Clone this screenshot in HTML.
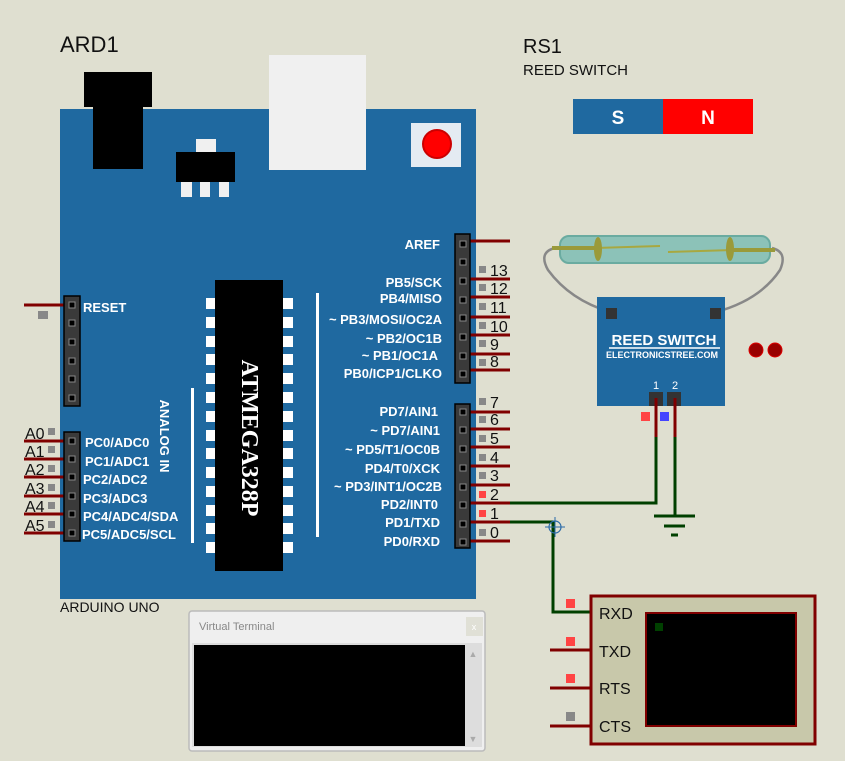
<!DOCTYPE html>
<html><head><meta charset="utf-8"><style>
html,body{margin:0;padding:0;background:#dfdfd0;}
svg{display:block;font-family:"Liberation Sans",sans-serif;}
.w{fill:#fff;font-weight:bold;font-size:13px;}
.n{fill:#111;font-size:16px;}
</style></head><body>
<svg width="845" height="761" viewBox="0 0 845 761" xmlns="http://www.w3.org/2000/svg">
<rect width="845" height="761" fill="#dfdfd0"/>
<text x="60" y="52" font-size="22" fill="#111">ARD1</text>
<text x="523" y="53" font-size="20" fill="#111">RS1</text>
<text x="523" y="75" font-size="15" fill="#111">REED SWITCH</text>
<text x="60" y="612" font-size="14" fill="#111">ARDUINO UNO</text>
<!-- board -->
<rect x="60" y="109" width="416" height="490" fill="#1f69a0"/>
<rect x="84" y="72" width="68" height="35" fill="#000"/>
<rect x="93" y="100" width="50" height="69" fill="#000"/>
<rect x="196" y="139" width="20" height="14" fill="#f0f0f0"/>
<rect x="176" y="152" width="59" height="30" fill="#000"/>
<rect x="181" y="182" width="11" height="15" fill="#f0f0f0"/>
<rect x="200" y="182" width="10" height="15" fill="#f0f0f0"/>
<rect x="219" y="182" width="10" height="15" fill="#f0f0f0"/>
<rect x="269" y="55" width="97" height="115" fill="#f0f0f0"/>
<rect x="411" y="123" width="50" height="44" fill="#e4ebf2"/>
<circle cx="437" cy="144" r="14" fill="#f00" stroke="#c00" stroke-width="2"/>
<!-- chip -->
<rect x="215" y="280" width="68" height="291" fill="#000"/>
<g fill="#fff">
<rect x="206" y="298" width="9" height="11"/><rect x="283" y="298" width="10" height="11"/>
<rect x="206" y="317" width="9" height="11"/><rect x="283" y="317" width="10" height="11"/>
<rect x="206" y="336" width="9" height="11"/><rect x="283" y="336" width="10" height="11"/>
<rect x="206" y="354" width="9" height="11"/><rect x="283" y="354" width="10" height="11"/>
<rect x="206" y="373" width="9" height="11"/><rect x="283" y="373" width="10" height="11"/>
<rect x="206" y="392" width="9" height="11"/><rect x="283" y="392" width="10" height="11"/>
<rect x="206" y="411" width="9" height="11"/><rect x="283" y="411" width="10" height="11"/>
<rect x="206" y="430" width="9" height="11"/><rect x="283" y="430" width="10" height="11"/>
<rect x="206" y="448" width="9" height="11"/><rect x="283" y="448" width="10" height="11"/>
<rect x="206" y="467" width="9" height="11"/><rect x="283" y="467" width="10" height="11"/>
<rect x="206" y="486" width="9" height="11"/><rect x="283" y="486" width="10" height="11"/>
<rect x="206" y="505" width="9" height="11"/><rect x="283" y="505" width="10" height="11"/>
<rect x="206" y="523" width="9" height="11"/><rect x="283" y="523" width="10" height="11"/>
<rect x="206" y="542" width="9" height="11"/><rect x="283" y="542" width="10" height="11"/>
</g>
<text transform="translate(242,438) rotate(90)" text-anchor="middle" font-family="Liberation Serif,serif" font-weight="bold" font-size="24" fill="#fff">ATMEGA328P</text>
<text transform="translate(160,436) rotate(90)" text-anchor="middle" class="w" font-size="12">ANALOG IN</text>
<rect x="191" y="388" width="3" height="155" fill="#fff"/>
<rect x="316" y="293" width="3" height="244" fill="#fff"/>
<!-- left headers -->
<g stroke="#800000" stroke-width="3">
<line x1="24" y1="305" x2="64" y2="305"/>
<line x1="24" y1="441" x2="64" y2="441"/><line x1="24" y1="459" x2="64" y2="459"/>
<line x1="24" y1="477" x2="64" y2="477"/><line x1="24" y1="496" x2="64" y2="496"/>
<line x1="24" y1="514" x2="64" y2="514"/><line x1="24" y1="533" x2="64" y2="533"/>
</g>
<rect x="64" y="296" width="16" height="110" fill="#3a3a3a" stroke="#000" stroke-width="1.5"/>
<rect x="64" y="432" width="16" height="109" fill="#3a3a3a" stroke="#000" stroke-width="1.5"/>
<g fill="#000" stroke="#888" stroke-width="1">
<rect x="69" y="302" width="6" height="6"/><rect x="69" y="320" width="6" height="6"/><rect x="69" y="339" width="6" height="6"/><rect x="69" y="358" width="6" height="6"/><rect x="69" y="376" width="6" height="6"/><rect x="69" y="395" width="6" height="6"/>
<rect x="69" y="438" width="6" height="6"/><rect x="69" y="456" width="6" height="6"/><rect x="69" y="474" width="6" height="6"/><rect x="69" y="493" width="6" height="6"/><rect x="69" y="511" width="6" height="6"/><rect x="69" y="530" width="6" height="6"/>
</g>
<rect x="38" y="311" width="10" height="8" fill="#888"/>
<g fill="#888"><rect x="48" y="428" width="7" height="7"/><rect x="48" y="446" width="7" height="7"/><rect x="48" y="465" width="7" height="7"/><rect x="48" y="484" width="7" height="7"/><rect x="48" y="502" width="7" height="7"/><rect x="48" y="521" width="7" height="7"/></g>
<g class="n"><text x="25" y="439">A0</text><text x="25" y="457">A1</text><text x="25" y="475">A2</text><text x="25" y="494">A3</text><text x="25" y="512">A4</text><text x="25" y="531">A5</text></g>
<g class="w"><text x="83" y="312">RESET</text>
<text x="85" y="447">PC0/ADC0</text><text x="85" y="466">PC1/ADC1</text><text x="83" y="484">PC2/ADC2</text><text x="83" y="503">PC3/ADC3</text><text x="83" y="521">PC4/ADC4/SDA</text><text x="82" y="539">PC5/ADC5/SCL</text></g>
<!-- right headers -->
<g stroke="#800000" stroke-width="3">
<line x1="470" y1="241" x2="510" y2="241"/><line x1="470" y1="279" x2="510" y2="279"/><line x1="470" y1="297" x2="510" y2="297"/><line x1="470" y1="317" x2="510" y2="317"/><line x1="470" y1="335" x2="510" y2="335"/><line x1="470" y1="354" x2="510" y2="354"/><line x1="470" y1="370" x2="510" y2="370"/>
<line x1="470" y1="412" x2="510" y2="412"/><line x1="470" y1="429" x2="510" y2="429"/><line x1="470" y1="447" x2="510" y2="447"/><line x1="470" y1="466" x2="510" y2="466"/><line x1="470" y1="485" x2="510" y2="485"/><line x1="470" y1="503" x2="510" y2="503"/><line x1="470" y1="522" x2="510" y2="522"/><line x1="470" y1="541" x2="510" y2="541"/>
</g>
<rect x="455" y="234" width="15" height="149" fill="#3a3a3a" stroke="#000" stroke-width="1.5"/>
<rect x="455" y="404" width="15" height="144" fill="#3a3a3a" stroke="#000" stroke-width="1.5"/>
<g fill="#000" stroke="#888" stroke-width="1">
<rect x="460" y="241" width="6" height="6"/><rect x="460" y="259" width="6" height="6"/><rect x="460" y="278" width="6" height="6"/><rect x="460" y="297" width="6" height="6"/><rect x="460" y="315" width="6" height="6"/><rect x="460" y="334" width="6" height="6"/><rect x="460" y="353" width="6" height="6"/><rect x="460" y="371" width="6" height="6"/>
<rect x="460" y="409" width="6" height="6"/><rect x="460" y="427" width="6" height="6"/><rect x="460" y="446" width="6" height="6"/><rect x="460" y="465" width="6" height="6"/><rect x="460" y="484" width="6" height="6"/><rect x="460" y="502" width="6" height="6"/><rect x="460" y="521" width="6" height="6"/><rect x="460" y="539" width="6" height="6"/>
</g>
<g class="w" text-anchor="end">
<text x="440" y="249">AREF</text><text x="442" y="287">PB5/SCK</text><text x="442" y="303">PB4/MISO</text><text x="442" y="324">~ PB3/MOSI/OC2A</text><text x="442" y="343">~ PB2/OC1B</text><text x="438" y="360">~ PB1/OC1A</text><text x="442" y="378">PB0/ICP1/CLKO</text>
<text x="438" y="416">PD7/AIN1</text><text x="440" y="435">~ PD7/AIN1</text><text x="440" y="454">~ PD5/T1/OC0B</text><text x="440" y="473">PD4/T0/XCK</text><text x="442" y="491">~ PD3/INT1/OC2B</text><text x="438" y="509">PD2/INT0</text><text x="440" y="527">PD1/TXD</text><text x="440" y="546">PD0/RXD</text></g>
<g fill="#888"><rect x="479" y="266" width="7" height="7"/><rect x="479" y="284" width="7" height="7"/><rect x="479" y="303" width="7" height="7"/><rect x="479" y="322" width="7" height="7"/><rect x="479" y="340" width="7" height="7"/><rect x="479" y="359" width="7" height="7"/>
<rect x="479" y="398" width="7" height="7"/><rect x="479" y="416" width="7" height="7"/><rect x="479" y="435" width="7" height="7"/><rect x="479" y="454" width="7" height="7"/><rect x="479" y="472" width="7" height="7"/><rect x="479" y="529" width="7" height="7"/></g>
<g fill="#f44"><rect x="479" y="491" width="7" height="7"/><rect x="479" y="510" width="7" height="7"/></g>
<g class="n"><text x="490" y="276">13</text><text x="490" y="294">12</text><text x="490" y="313">11</text><text x="490" y="332">10</text><text x="490" y="350">9</text><text x="490" y="367">8</text>
<text x="490" y="408">7</text><text x="490" y="425">6</text><text x="490" y="444">5</text><text x="490" y="463">4</text><text x="490" y="481">3</text><text x="490" y="500">2</text><text x="490" y="519">1</text><text x="490" y="538">0</text></g>
<!-- magnet -->
<rect x="573" y="99" width="90" height="35" fill="#1f69a0"/>
<rect x="663" y="99" width="90" height="35" fill="#f00"/>
<text x="618" y="124" text-anchor="middle" font-weight="bold" font-size="19" fill="#fff">S</text>
<text x="708" y="124" text-anchor="middle" font-weight="bold" font-size="19" fill="#fff">N</text>
<!-- reed switch -->
<path d="M555 248 Q538 252 548 270 Q570 300 610 312" fill="none" stroke="#888" stroke-width="2.5"/>
<path d="M772 248 Q788 252 780 270 Q760 300 716 312" fill="none" stroke="#888" stroke-width="2.5"/>
<rect x="560" y="236" width="210" height="27" rx="9" fill="#8cc2b8" stroke="#6aaba0" stroke-width="2"/>
<line x1="552" y1="248" x2="595" y2="248" stroke="#9a9a3a" stroke-width="4"/>
<line x1="733" y1="250" x2="775" y2="250" stroke="#9a9a3a" stroke-width="4"/>
<line x1="595" y1="248" x2="660" y2="246" stroke="#a8a840" stroke-width="2"/>
<line x1="668" y1="252" x2="733" y2="250" stroke="#a8a840" stroke-width="2"/>
<ellipse cx="598" cy="249" rx="4" ry="12" fill="#9a9a3a"/><ellipse cx="730" cy="249" rx="4" ry="12" fill="#9a9a3a"/>
<rect x="597" y="297" width="128" height="109" fill="#1f69a0"/>
<rect x="606" y="308" width="11" height="11" fill="#333"/><rect x="710" y="308" width="11" height="11" fill="#333"/>
<text x="664" y="345" text-anchor="middle" font-weight="bold" font-size="15" fill="#fff">REED SWITCH</text>
<line x1="609" y1="348" x2="720" y2="348" stroke="#fff" stroke-width="1.5"/>
<text x="662" y="358" text-anchor="middle" font-weight="bold" font-size="9" fill="#fff">ELECTRONICSTREE.COM</text>
<text x="656" y="389" text-anchor="middle" font-size="11" fill="#fff">1</text>
<text x="675" y="389" text-anchor="middle" font-size="11" fill="#fff">2</text>
<rect x="649" y="392" width="14" height="14" fill="#333"/><rect x="667" y="392" width="14" height="14" fill="#333"/>
<rect x="641" y="412" width="9" height="9" fill="#f44"/><rect x="660" y="412" width="9" height="9" fill="#44f"/>
<circle cx="756" cy="350" r="7" fill="#900" stroke="#d00"/><circle cx="775" cy="350" r="7" fill="#900" stroke="#d00"/>
<!-- wires -->
<g fill="none" stroke-width="3">
<line x1="656" y1="398" x2="656" y2="437" stroke="#800000"/>
<line x1="675" y1="398" x2="675" y2="437" stroke="#800000"/>
<polyline points="510,503 656,503 656,437" stroke="#004000"/>
<line x1="675" y1="437" x2="675" y2="516" stroke="#004000"/>
<line x1="654" y1="516" x2="695" y2="516" stroke="#004000"/>
<line x1="664" y1="526" x2="685" y2="526" stroke="#004000"/>
<line x1="671" y1="535" x2="678" y2="535" stroke="#004000"/>
<polyline points="510,522 553,522 553,612 590,612" stroke="#004000"/>
<line x1="550" y1="650" x2="590" y2="650" stroke="#800000"/>
<line x1="550" y1="688" x2="590" y2="688" stroke="#800000"/>
<line x1="550" y1="726" x2="590" y2="726" stroke="#800000"/>
</g>
<circle cx="555" cy="527" r="6" fill="none" stroke="#2a6aa8" stroke-width="1.2"/>
<line x1="545" y1="527" x2="565" y2="527" stroke="#2a6aa8"/><line x1="555" y1="517" x2="555" y2="537" stroke="#2a6aa8"/>
<!-- terminal -->
<rect x="591" y="596" width="224" height="148" fill="#c8c8aa" stroke="#800000" stroke-width="3"/>
<rect x="646" y="613" width="150" height="113" fill="#000" stroke="#800000" stroke-width="2"/>
<rect x="655" y="623" width="8" height="8" fill="#004000"/>
<g fill="#f44"><rect x="566" y="599" width="9" height="9"/><rect x="566" y="637" width="9" height="9"/><rect x="566" y="674" width="9" height="9"/></g>
<rect x="566" y="712" width="9" height="9" fill="#888"/>
<g class="n"><text x="599" y="619">RXD</text><text x="599" y="657">TXD</text><text x="599" y="694">RTS</text><text x="599" y="732">CTS</text></g>
<!-- virtual terminal window -->
<rect x="189" y="611" width="296" height="140" rx="3" fill="#efefef" stroke="#bbb" stroke-width="1.5"/>
<text x="199" y="630" font-size="11" fill="#888">Virtual Terminal</text>
<rect x="466" y="617" width="17" height="19" fill="#e0e0d6"/>
<text x="474" y="630" font-size="9" fill="#fff" text-anchor="middle">x</text>
<rect x="192" y="643" width="290" height="104" fill="#ddd"/>
<rect x="194" y="645" width="271" height="101" fill="#000"/>
<text x="473" y="657" font-size="9" fill="#aaa" text-anchor="middle">▲</text>
<text x="473" y="742" font-size="9" fill="#aaa" text-anchor="middle">▼</text>
</svg>
</body></html>
